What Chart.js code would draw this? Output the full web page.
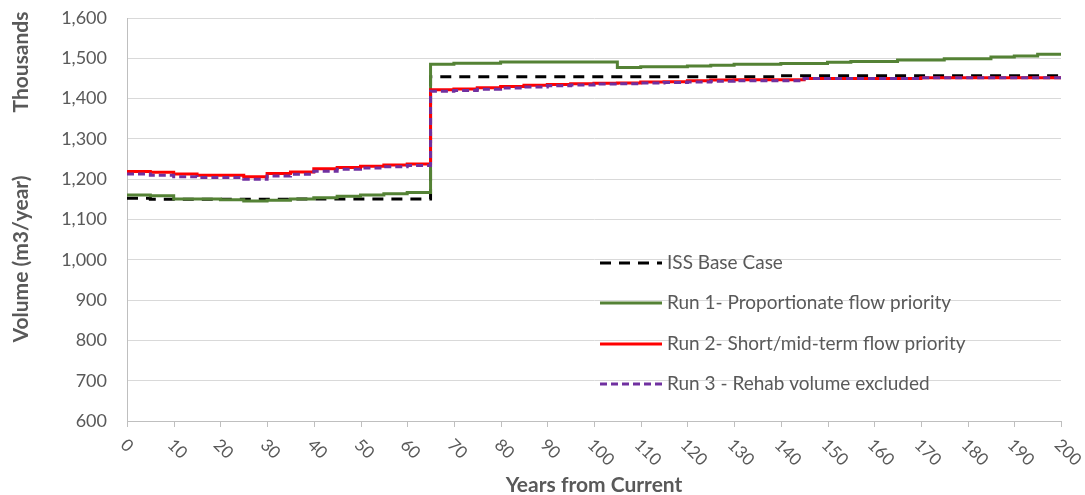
<!DOCTYPE html>
<html>
<head>
<meta charset="utf-8">
<script src="https://cdn.jsdelivr.net/npm/chart.js@4"></script>
<style>
  body { margin: 0; background: #fff; }
  #wrap { width: 1085px; height: 495px; position: relative; }
</style>
</head>
<body>
<div id="wrap"><canvas id="grafico"></canvas></div>
<script>
const xTicks = [0, 200, 10];   // min, max, step
const yTicks = [600, 1600, 100];

const issAnos = [0, 5, 35, 65, 140, 200];
const issValores = [1153, 1150, 1151, 1454, 1457, 1457];

const run1Anos = [0, 5, 10, 20, 25, 30, 35, 40, 45, 50, 55, 60, 65, 70, 80, 105, 110, 120, 125, 130, 140, 150, 155, 165, 175, 185, 190, 195, 200];
const run1Valores = [1161, 1159, 1151, 1149, 1146, 1148, 1151, 1154, 1158, 1161, 1164, 1167, 1485, 1488, 1491, 1477, 1479, 1481, 1483, 1485, 1487, 1490, 1492, 1496, 1499, 1503, 1506, 1510, 1510];

const run2Anos = [0, 5, 10, 15, 25, 30, 35, 40, 45, 50, 55, 60, 65, 70, 75, 80, 85, 90, 95, 100, 105, 110, 115, 120, 125, 130, 145, 170, 200];
const run2Valores = [1219, 1217, 1213, 1210, 1206, 1214, 1218, 1226, 1229, 1232, 1235, 1238, 1422, 1424, 1427, 1430, 1433, 1435, 1437, 1438, 1439, 1441, 1442, 1444, 1446, 1447, 1450, 1452, 1452];
const run3Valores = [1213, 1210, 1206, 1204, 1200, 1208, 1212, 1220, 1225, 1228, 1231, 1234, 1418, 1420, 1423, 1426, 1429, 1432, 1434, 1436, 1437, 1439, 1440, 1441, 1443, 1444, 1450, 1452, 1452];

const nomes = ['ISS Base Case', 'Run 1- Proportionate flow priority', 'Run 2- Short/mid-term flow priority', 'Run 3 - Rehab volume excluded'];

const cinza = '#595959';
const fonte = 'Lato, "Open Sans", sans-serif';

function pontos(anos, valores) {
  return anos.map((a, i) => ({ x: a, y: valores[i] }));
}

function serie(label, dados, cor, dash, ordem) {
  return {
    label: label,
    data: dados,
    borderColor: cor,
    backgroundColor: cor,
    borderWidth: 3,
    borderDash: dash,
    stepped: 'before',
    pointRadius: 0,
    fill: false,
    order: ordem
  };
}

// desenha rotulos, titulos e legenda
const extras = {
  id: 'extras',
  afterDraw(chart) {
    const ctx = chart.ctx;
    const xs = chart.scales.x, ys = chart.scales.y;
    const area = chart.chartArea;
    ctx.save();
    ctx.fillStyle = cinza;

    // rotulos eixo y
    ctx.font = '18px ' + fonte;
    ctx.textAlign = 'right';
    ctx.textBaseline = 'middle';
    ys.ticks.forEach(t => {
      ctx.fillText(t.value.toLocaleString('en-US'), area.left - 20, ys.getPixelForValue(t.value));
    });

    // marcas e rotulos eixo x
    ctx.strokeStyle = '#bfbfbf';
    ctx.lineWidth = 1;
    ctx.font = '17px ' + fonte;
    ctx.textAlign = 'left';
    xs.ticks.forEach(t => {
      const px = Math.round(xs.getPixelForValue(t.value)) + 0.5;
      ctx.beginPath();
      ctx.moveTo(px, area.bottom);
      ctx.lineTo(px, area.bottom + 6);
      ctx.stroke();
      ctx.save();
      ctx.translate(px - 4, area.bottom + 21);
      ctx.rotate(Math.PI / 4);
      ctx.fillText(String(t.value), 0, 0);
      ctx.restore();
    });

    // titulos
    ctx.font = 'bold 21px ' + fonte;
    ctx.textAlign = 'center';
    ctx.fillText('Years from Current', (area.left + area.right) / 2, 485);
    ctx.save();
    ctx.translate(21, 259);
    ctx.rotate(-Math.PI / 2);
    ctx.fillText('Volume (m3/year)', 0, 0);
    ctx.restore();
    ctx.save();
    ctx.translate(21, 62);
    ctx.rotate(-Math.PI / 2);
    ctx.fillText('Thousands', 0, 0);
    ctx.restore();

    // legenda
    const linhas = [263, 303, 344, 384];
    ctx.font = '19px ' + fonte;
    ctx.textAlign = 'left';
    nomes.forEach((nome, i) => {
      const ds = chart.data.datasets[i];
      const y = linhas[i];
      ctx.strokeStyle = ds.borderColor;
      ctx.lineWidth = 3;
      ctx.setLineDash(ds.borderDash || []);
      ctx.beginPath();
      ctx.moveTo(600, y);
      ctx.lineTo(662, y);
      ctx.stroke();
      ctx.setLineDash([]);
      ctx.fillStyle = cinza;
      ctx.fillText(nome, 667, y);
    });
    ctx.restore();
  }
};

new Chart(document.getElementById('grafico').getContext('2d'), {
  type: 'line',
  data: {
    datasets: [
      serie(nomes[0], pontos(issAnos, issValores), '#000000', [11, 8], 4),
      serie(nomes[1], pontos(run1Anos, run1Valores), '#548235', [], 3),
      serie(nomes[2], pontos(run2Anos, run2Valores), '#ff0000', [], 2),
      serie(nomes[3], pontos(run2Anos, run3Valores), '#7030a0', [7, 4], 0)
    ]
  },
  options: {
    responsive: true,
    maintainAspectRatio: false,
    animation: false,
    layout: { padding: { left: 127, right: 24, top: 18, bottom: 74 } },
    scales: {
      x: {
        type: 'linear',
        min: xTicks[0], max: xTicks[1],
        ticks: { stepSize: xTicks[2], display: false },
        grid: { display: false, drawTicks: false },
        border: { display: true, color: '#bfbfbf', width: 1 }
      },
      y: {
        min: yTicks[0], max: yTicks[1],
        ticks: { stepSize: yTicks[2], display: false },
        grid: { color: '#d9d9d9', drawTicks: false },
        border: { display: true, color: '#bfbfbf', width: 1 }
      }
    },
    plugins: {
      legend: { display: false },
      tooltip: { enabled: false }
    }
  },
  plugins: [extras]
});
</script>
</body>
</html>
